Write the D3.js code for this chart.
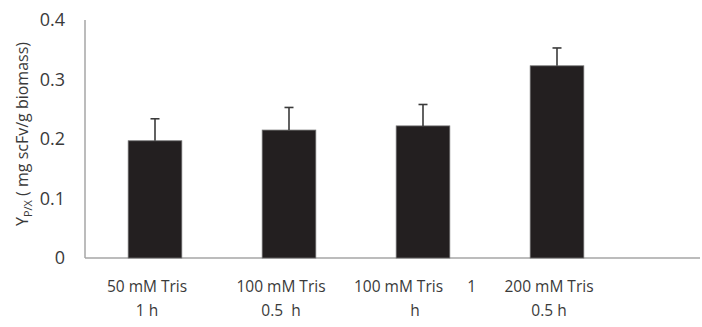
<!DOCTYPE html>
<html><head><meta charset="utf-8">
<script src="https://cdn.jsdelivr.net/npm/d3@7"></script>
<style>
html,body{margin:0;padding:0;background:#fff;}
svg{display:block;font-family:"Open Sans",sans-serif;}
</style></head>
<body>
<svg id="chart" width="702" height="327"></svg>
<script>
const categories = ["50 mM Tris 1 h","100 mM Tris 0.5 h","100 mM Tris 1 h","200 mM Tris 0.5 h"];
const labelLines = [["50 mM Tris","1 h"],["100 mM Tris","0.5  h"],["100 mM Tris      1","h"],["200 mM Tris","0.5 h"]];
const values = [0.197, 0.215, 0.222, 0.323];
const errors = [0.037, 0.038, 0.036, 0.030];
const yTicks = [0, 0.1, 0.2, 0.3, 0.4];
const yTickLabels = ["0","0.1","0.2","0.3","0.4"];

const svg = d3.select("#chart");
const mLeft = 85, mRight = 700, mTop = 20, mBottom = 258;
const x = d3.scaleBand().domain(categories).range([88, 624]).paddingInner(0.6).paddingOuter(0.3);
const y = d3.scaleLinear().domain([0, 0.4]).range([mBottom, mTop]);
const textColor = "#3a3a3a";

// axes
svg.append("line").attr("x1", mLeft).attr("x2", mLeft).attr("y1", y(0.4)).attr("y2", y(0))
  .attr("stroke", "#a6a6a6").attr("stroke-width", 1.5);
svg.append("line").attr("x1", mLeft).attr("x2", mRight).attr("y1", y(0)).attr("y2", y(0))
  .attr("stroke", "#a6a6a6").attr("stroke-width", 1.5);

const yAxis = d3.axisLeft(y).tickValues(yTicks).tickSize(0).tickPadding(20)
  .tickFormat((d, i) => yTickLabels[i]);
const ga = svg.append("g").attr("transform", `translate(${mLeft},0)`).call(yAxis);
ga.select(".domain").remove();
ga.selectAll("text").attr("font-size", 18).attr("fill", textColor).attr("font-family", "'Open Sans', sans-serif");

// bars
svg.selectAll("rect.bar").data(values).enter().append("rect")
  .attr("class", "bar")
  .attr("x", (d, i) => x(categories[i]))
  .attr("width", x.bandwidth())
  .attr("y", d => y(d))
  .attr("height", d => y(0) - y(d))
  .attr("fill", "#231f20").attr("stroke", "#6d6d6d").attr("stroke-width", 0.8);

// error bars
const eg = svg.append("g").attr("stroke", "#3a3a3a").attr("stroke-width", 1.6);
values.forEach((v, i) => {
  const cx = x(categories[i]) + x.bandwidth() / 2;
  eg.append("line").attr("x1", cx).attr("x2", cx).attr("y1", y(v)).attr("y2", y(v + errors[i]));
  eg.append("line").attr("x1", cx - 4.5).attr("x2", cx + 4.5).attr("y1", y(v + errors[i])).attr("y2", y(v + errors[i]));
});

// x labels
labelLines.forEach((lines, i) => {
  const cx = x(categories[i]) + x.bandwidth() / 2 - 8;
  const t = svg.append("text").attr("text-anchor", "middle").attr("font-size", 15.5)
    .attr("fill", textColor).style("white-space", "pre");
  lines.forEach((ln, j) => {
    t.append("tspan").attr("x", cx).attr("y", 292 + j * 23.5).text(ln);
  });
});

// y title
const yt = svg.append("text").attr("transform", `translate(28,${(mTop + mBottom) / 2 - 5}) rotate(-90)`)
  .attr("text-anchor", "middle").attr("font-size", 16).attr("fill", textColor);
yt.append("tspan").text("Y");
yt.append("tspan").attr("font-size", 11).attr("dy", 4).text("P/X");
yt.append("tspan").attr("dy", -4).text(" ( mg scFv/g biomass)");
</script>
</body></html>
